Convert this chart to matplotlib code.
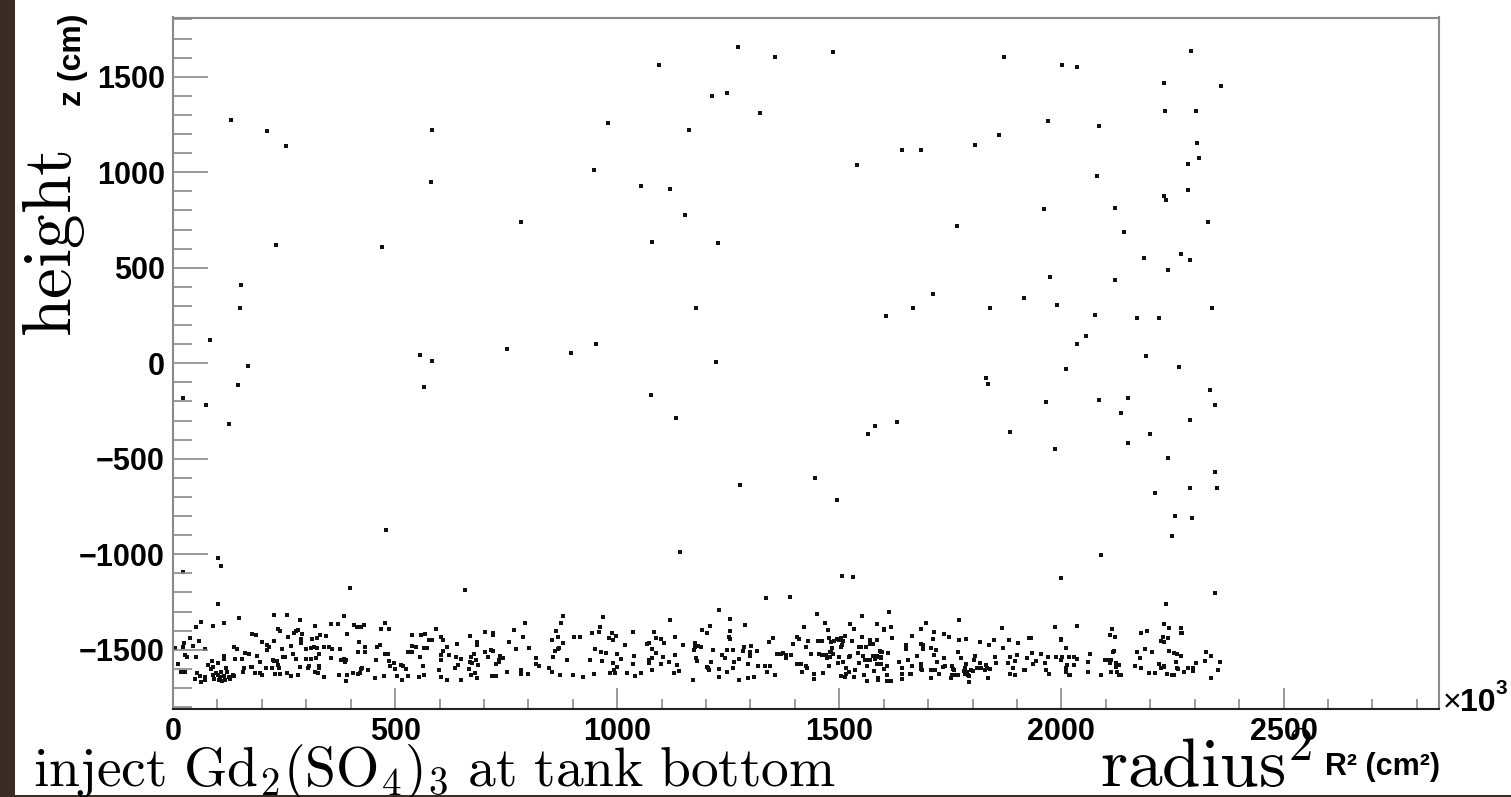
import matplotlib.pyplot as plt
from matplotlib.patches import Rectangle
from matplotlib.ticker import MultipleLocator

plt.rcParams['mathtext.fontset'] = 'cm'

# R^2 (in units of 10^3 cm^2) and z (cm) of the injected points
# dense layer near the bottom of the tank
r2_bottom = [
    101, 227, 257, 386, 149, 286, 63, 114, 52, 89, 319, 355, 372, 237, 242, 282, 277, 272, 291, 178,
    186, 260, 332, 344, 325, 392, 38, 59, 289, 313, 227, 201, 25, 288, 211, 215, 22, 45, 71, 137,
    145, 266, 4, 299, 311, 317, 325, 341, 352, 358, 376, 212, 245, 161, 170, 190, 26, 31, 51, 114,
    114, 140, 156, 248, 252, 271, 278, 299, 311, 321, 329, 356, 379, 384, 389, 388, 224, 227, 233, 88,
    102, 11, 79, 89, 196, 178, 176, 210, 237, 238, 222, 287, 304, 306, 329, 329, 120, 86, 160, 158,
    185, 195, 201, 230, 240, 257, 266, 281, 319, 327, 18, 26, 55, 96, 91, 101, 107, 122, 134, 137,
    115, 105, 125, 60, 50, 72, 71, 64, 92, 104, 111, 116, 129, 339, 374, 392, 390,
    407, 415, 423, 429, 478, 469, 487, 418, 432, 416, 433, 460, 465, 478, 485, 457, 486, 498, 488, 514,
    517, 499, 524, 425, 423, 439, 405, 417, 421, 476, 454, 505, 515, 530, 538, 538, 547, 559, 568, 577,
    583, 592, 603, 607, 565, 571, 530, 539, 556, 562, 553, 566, 599, 604, 616, 616, 607, 603, 622, 604,
    640, 642, 634, 636, 649, 669, 684, 685, 677, 670, 683, 668, 673, 686, 667, 680, 670, 684, 649, 703,
    721, 721, 715, 720, 702, 710, 737, 742, 734, 734, 728, 718, 728, 751, 756, 768, 787, 773, 792, 801,
    784, 784, 800,
    877, 874, 862, 853, 866, 877, 869, 867, 860, 856, 802, 818, 817, 823, 847, 853, 800, 871, 886, 903,
    917, 900, 922, 967, 961, 943, 958, 988, 998, 981, 991, 949, 964, 974, 938, 965, 948, 1000, 1009, 991,
    1000, 993, 994, 983, 1017, 1036, 1037, 1036, 1023, 1041, 1053, 1083, 1088, 1098, 1105, 1072, 1066, 1079, 1087, 1078,
    1072, 1071, 1102, 1099, 1078, 1117, 1118, 1130, 1148, 1129, 1135, 1138, 1127, 1170, 1191, 1176, 1174, 1181, 1189, 1172,
    1177, 1179, 1202,
    1334, 1230, 1254, 1209, 1203, 1253, 1287, 1251, 1255, 1215, 1235, 1247, 1260, 1285, 1302, 1284, 1299, 1315, 1243, 1263,
    1275, 1299, 1294, 1212, 1202, 1204, 1207, 1230, 1247, 1260, 1230, 1275, 1295, 1309, 1318, 1333, 1343, 1338, 1356, 1341,
    1351, 1359, 1368, 1374, 1380, 1381, 1392, 1395, 1404, 1409, 1404, 1414, 1425, 1427, 1416, 1425, 1430, 1420, 1450, 1467,
    1474, 1452, 1462, 1436, 1454, 1461, 1469, 1443, 1444, 1464, 1476, 1476, 1482, 1488, 1495, 1500, 1503, 1508, 1506, 1512,
    1504, 1483, 1478, 1481, 1485, 1480, 1473, 1500, 1497, 1509, 1521, 1523, 1514, 1503, 1516, 1522, 1512, 1533, 1523, 1533,
    1551, 1551, 1569, 1529, 1541, 1545, 1549, 1559, 1568, 1575, 1585, 1585, 1591, 1595, 1554, 1557, 1566, 1570, 1575, 1580,
    1585, 1587, 1585, 1593, 1563, 1544, 1536, 1555, 1563, 1578, 1587, 1587, 1600,
    1611, 1601, 1616, 1619, 1593, 1593, 1593, 1610, 1607, 1601, 1607, 1607, 1616, 1635, 1640, 1640, 1640, 1651, 1651, 1655,
    1663, 1663, 1659, 1662, 1676, 1684, 1685, 1688, 1689, 1696, 1683, 1685, 1687, 1684, 1706, 1707, 1707, 1711, 1713, 1713,
    1717, 1721, 1716, 1724, 1735, 1736, 1737, 1733, 1746, 1751, 1754, 1755, 1758, 1753, 1761, 1767, 1769, 1770, 1767, 1775,
    1786, 1785, 1784, 1780, 1783, 1788, 1790, 1793, 1791, 1800, 1796, 1803, 1805, 1816, 1817, 1811, 1820, 1827, 1831, 1832,
    1839, 1837, 1835, 1849, 1850, 1852, 1853, 1866, 1868, 1883, 1880, 1884, 1885, 1891, 1896, 1896, 1901, 1903, 1916, 1919,
    1928, 1931, 1922, 1934, 1943, 1937, 1955, 1964, 1966, 1971, 1969, 1986, 1988, 1998,
    2236, 2035, 1998, 2011, 2001, 2000, 2017, 2029, 2036, 2028, 2012, 2011, 2011, 2017, 2019, 2059, 2065, 2060, 2089, 2113,
    2109, 2120, 2119, 2116, 2097, 2104, 2111, 2110, 2123, 2130, 2123, 2112, 2125, 2129, 2134, 2179, 2192, 2231, 2242, 2270,
    2269, 2272, 2228, 2239, 2225, 2230, 2170, 2188, 2203, 2177, 2166, 2179, 2197, 2211, 2242, 2254, 2261, 2269, 2259, 2220,
    2230, 2231, 2224, 2238, 2249, 2253, 2261, 2263, 2275, 2286, 2297, 2297, 2303, 2326, 2337, 2324, 2357, 2352, 2336,
]
z_bottom = [
    -1260, -1318, -1318, -1321, -1333, -1344, -1353, -1361, -1381, -1374, -1374, -1367, -1365, -1391, -1400, -1394, -1401, -1412, -1415, -1417,
    -1421, -1431, -1424, -1429, -1436, -1417, -1436, -1454, -1445, -1442, -1452, -1461, -1466, -1463, -1477, -1483, -1487, -1480, -1496, -1487,
    -1494, -1480, -1492, -1496, -1490, -1487, -1490, -1485, -1485, -1497, -1496, -1503, -1497, -1515, -1524, -1531, -1529, -1539, -1536, -1532,
    -1546, -1548, -1550, -1536, -1539, -1522, -1550, -1550, -1548, -1541, -1524, -1543, -1555, -1550, -1555, -1562, -1553, -1557, -1559, -1559,
    -1567, -1576, -1579, -1588, -1562, -1588, -1592, -1593, -1579, -1597, -1595, -1592, -1593, -1586, -1585, -1595, -1595, -1600, -1595, -1614,
    -1623, -1621, -1634, -1627, -1627, -1623, -1637, -1632, -1614, -1620, -1614, -1618, -1620, -1623, -1632, -1632, -1618, -1618, -1630, -1635,
    -1637, -1641, -1642, -1639, -1653, -1642, -1656, -1667, -1655, -1656, -1661, -1660, -1651, -1644, -1630, -1634, -1665,
    -1370, -1379, -1381, -1370, -1361, -1391, -1393, -1457, -1483, -1513, -1513, -1483, -1477, -1524, -1520, -1553, -1560, -1571, -1583, -1579,
    -1586, -1599, -1600, -1593, -1599, -1607, -1620, -1627, -1623, -1639, -1649, -1637, -1658, -1635, -1424, -1480, -1483, -1424, -1415, -1447,
    -1447, -1393, -1435, -1447, -1490, -1489, -1510, -1513, -1538, -1583, -1641, -1630, -1607, -1641, -1660, -1487, -1508, -1527, -1527, -1555,
    -1471, -1581, -1597, -1538, -1548, -1428, -1457, -1475, -1520, -1538, -1555, -1562, -1571, -1581, -1602, -1623, -1630, -1646, -1658, -1405,
    -1410, -1421, -1499, -1504, -1513, -1536, -1534, -1545, -1552, -1564, -1572, -1639, -1639, -1618, -1461, -1398, -1431, -1496, -1358, -1490,
    -1604, -1625, -1628,
    -1323, -1361, -1400, -1450, -1435, -1464, -1489, -1497, -1506, -1539, -1489, -1543, -1576, -1586, -1593, -1614, -1627, -1634, -1553, -1431,
    -1431, -1630, -1642, -1330, -1381, -1414, -1407, -1410, -1428, -1440, -1450, -1496, -1513, -1517, -1553, -1560, -1627, -1524, -1550, -1571,
    -1590, -1604, -1620, -1623, -1475, -1407, -1534, -1576, -1620, -1635, -1620, -1407, -1440, -1443, -1464, -1464, -1471, -1496, -1517, -1543,
    -1552, -1569, -1538, -1576, -1606, -1564, -1344, -1431, -1477, -1527, -1579, -1611, -1620, -1660, -1396, -1466, -1485, -1480, -1487, -1499,
    -1541, -1557, -1590,
    -1227, -1293, -1340, -1375, -1410, -1400, -1370, -1431, -1445, -1499, -1525, -1499, -1503, -1485, -1480, -1504, -1513, -1504, -1545, -1562,
    -1546, -1534, -1572, -1564, -1588, -1597, -1607, -1600, -1618, -1597, -1642, -1660, -1649, -1642, -1583, -1586, -1583, -1618, -1630, -1461,
    -1438, -1522, -1522, -1517, -1529, -1541, -1527, -1471, -1431, -1445, -1574, -1574, -1585, -1593, -1618, -1487, -1454, -1382, -1314, -1361,
    -1396, -1452, -1452, -1524, -1524, -1527, -1525, -1627, -1653, -1620, -1586, -1440, -1457, -1452, -1445, -1447, -1440, -1452, -1473, -1429,
    -1487, -1492, -1513, -1513, -1522, -1539, -1545, -1536, -1569, -1562, -1538, -1532, -1593, -1635, -1625, -1614, -1641, -1641, -1367, -1389,
    -1323, -1431, -1450, -1454, -1517, -1487, -1485, -1485, -1468, -1468, -1367, -1449, -1508, -1513, -1534, -1555, -1555, -1555, -1532, -1548,
    -1532, -1539, -1572, -1572, -1583, -1571, -1606, -1630, -1663, -1609, -1649, -1660, -1391,
    -1300, -1394, -1381, -1436, -1513, -1536, -1545, -1517, -1583, -1599, -1630, -1661, -1661, -1562, -1595, -1628, -1651, -1477, -1496, -1552,
    -1426, -1583, -1628, -1625, -1531, -1393, -1470, -1477, -1497, -1360, -1574, -1590, -1606, -1600, -1648, -1607, -1492, -1442, -1407, -1529,
    -1503, -1564, -1604, -1625, -1417, -1541, -1583, -1590, -1431, -1648, -1583, -1600, -1606, -1634, -1634, -1630, -1346, -1447, -1513, -1545,
    -1442, -1576, -1597, -1611, -1625, -1618, -1634, -1639, -1667, -1609, -1606, -1552, -1534, -1461, -1567, -1593, -1597, -1606, -1579, -1595,
    -1599, -1477, -1649, -1450, -1538, -1569, -1567, -1384, -1489, -1450, -1569, -1538, -1627, -1597, -1557, -1630, -1527, -1464, -1607, -1604,
    -1438, -1438, -1541, -1515, -1560, -1576, -1524, -1567, -1604, -1627, -1538, -1382, -1536, -1443,
    -1260, -1374, -1447, -1489, -1536, -1553, -1536, -1539, -1550, -1579, -1579, -1597, -1614, -1632, -1630, -1565, -1520, -1616, -1630, -1393,
    -1422, -1431, -1506, -1510, -1553, -1553, -1553, -1571, -1571, -1579, -1588, -1616, -1614, -1634, -1634, -1414, -1400, -1367, -1388, -1384,
    -1410, -1410, -1435, -1440, -1452, -1457, -1510, -1496, -1513, -1543, -1583, -1593, -1620, -1623, -1506, -1517, -1524, -1531, -1562, -1576,
    -1588, -1585, -1597, -1627, -1632, -1634, -1593, -1600, -1614, -1595, -1593, -1609, -1567, -1513, -1531, -1557, -1565, -1607, -1649,
]

# sparse points spread over the rest of the tank
r2_upper = [
    22, 74, 83, 101, 108, 22, 101, 126, 130, 153, 151, 146, 169, 212, 254, 232, 470, 398, 556, 565,
    583, 583, 581, 479, 657, 752, 783, 896, 947, 952, 979, 1053, 1078, 1076, 1118, 1132, 1141, 1152, 1161, 1177,
    1213, 1226, 1222, 1276, 1321, 1355, 1388, 1445, 1485, 1495, 1505, 1530, 1540, 1565, 1580, 1605, 1630, 1640, 1665, 1685,
    1710, 1765, 1805, 1830, 1835, 1840, 1860, 1870, 1885, 1915, 1960, 1965, 1970, 1975, 1985, 1990, 2000, 2002, 2010, 2036,
    2035, 2055, 2075, 2080, 2085, 2085, 2090, 2120, 2120, 2135, 2140, 2150, 2150, 2170, 2185, 2190, 2200, 2210, 2220, 2230,
    2230, 2235, 2240, 2240, 2250, 2255, 2265, 2270, 2292, 2234, 2285, 2285, 2290, 2290, 2290, 2295, 2302, 2305, 2310, 2330,
    2335, 2359, 2340, 2345, 2345, 2350, 2345, 1271, 1094, 1247,
]
z_upper = [
    -183, -220, 121, -1021, -1063, -1094, -1262, -319, 1273, 410, 288, -115, -16, 1216, 1136, 618, 607, -1178, 42, -126,
    11, 1221, 948, -874, -1189, 73, 738, 52, 1011, 99, 1257, 927, 634, -165, 912, -289, -990, 775, 1220, 288,
    1399, 629, 7, -639, 1311, 1603, -1223, -601, 1630, -717, -1114, -1120, 1039, -370, -330, 248, -309, 1116, 288, 1116,
    361, 717, 1142, -79, -108, 288, 1194, 1603, -361, 340, 806, -204, 1267, 450, -451, 304, -1126, 1560, -31, 1550,
    99, 145, 250, 981, 1242, -193, -1005, 434, 811, -262, 686, -183, -419, 236, 550, 38, -372, -681, 236, 1467,
    874, 853, 488, -498, -906, -801, -20, 571, 1637, 1322, 1043, 906, 540, -298, -654, -811, 1323, 1152, 1073, 738,
    -141, 1450, 288, -219, -570, -654, -1204, 1655, 1561, 1415,
]

W, H = 1511, 797
fig = plt.figure(figsize=(W / 100, H / 100), dpi=100)
fig.patch.set_facecolor('white')

# brown slide border on the left and bottom
fig.patches.append(Rectangle((0, 0), 15 / W, 1, transform=fig.transFigure,
                             facecolor='#3b2d25', edgecolor='none', zorder=0))
fig.patches.append(Rectangle((0, 0), 1, 2 / H, transform=fig.transFigure,
                             facecolor='#3b2d25', edgecolor='none', zorder=0))

ax = fig.add_axes([173 / W, 1 - 709 / H, (1439 - 173) / W, (709 - 17.5) / H])
ax.scatter(r2_bottom, z_bottom, s=5, marker='s', color='#111111', linewidths=0)
ax.scatter(r2_upper, z_upper, s=5, marker='s', color='#111111', linewidths=0)

ax.set_xlim(0, 2850)
ax.set_ylim(-1810, 1810)
ax.xaxis.set_major_locator(MultipleLocator(500))
ax.xaxis.set_minor_locator(MultipleLocator(100))
ax.yaxis.set_major_locator(MultipleLocator(500))
ax.yaxis.set_minor_locator(MultipleLocator(100))

ax.tick_params(axis='both', which='both', direction='in', color='#8a8a8a', width=1.2,
               top=False, right=False)
ax.tick_params(axis='x', which='major', length=15, pad=6)
ax.tick_params(axis='x', which='minor', length=7.5)
ax.tick_params(axis='y', which='major', length=25, pad=6)
ax.tick_params(axis='y', which='minor', length=13.5)

for lab in ax.get_xticklabels() + ax.get_yticklabels():
    lab.set_fontfamily('Liberation Sans')
    lab.set_fontweight('bold')
    lab.set_fontsize(22)

for side in ['left', 'top', 'right']:
    ax.spines[side].set_color('#8a8a8a')
    ax.spines[side].set_linewidth(1.5)
ax.spines['bottom'].set_color('#222222')
ax.spines['bottom'].set_linewidth(1.5)

# axis titles, ROOT style
fig.text(73 / W, 1 - 14 / H, 'z (cm)', rotation=90, ha='center', va='top',
         fontfamily='Liberation Sans', fontweight='bold', fontsize=23)
fig.text(1440 / W, 1 - 775 / H, 'R² (cm²)', ha='right', va='baseline',
         fontfamily='Liberation Sans', fontweight='bold', fontsize=22)
fig.text(1443 / W, 1 - 711 / H, '×', ha='left', va='baseline',
         fontfamily='Liberation Sans', fontsize=23)
fig.text(1460 / W, 1 - 711 / H, '10', ha='left', va='baseline',
         fontfamily='Liberation Sans', fontweight='bold', fontsize=23)
fig.text(1496 / W, 1 - 694 / H, '3', ha='left', va='baseline',
         fontfamily='Liberation Sans', fontweight='bold', fontsize=15)

# hand-written slide annotations
fig.text(20 / W, 1 - 337 / H, r'$\mathrm{height}$', rotation=90, ha='left', va='bottom',
         fontsize=50)
fig.text(33 / W, 1 - 786 / H, r'$\mathrm{inject\ Gd_2(SO_4)_3\ at\ tank\ bottom}$',
         ha='left', va='baseline', fontsize=40)
fig.text(1100 / W, 1 - 787 / H, r'$\mathrm{radius}^2$', ha='left', va='baseline',
         fontsize=50)

fig.savefig('out.png', dpi=100)
